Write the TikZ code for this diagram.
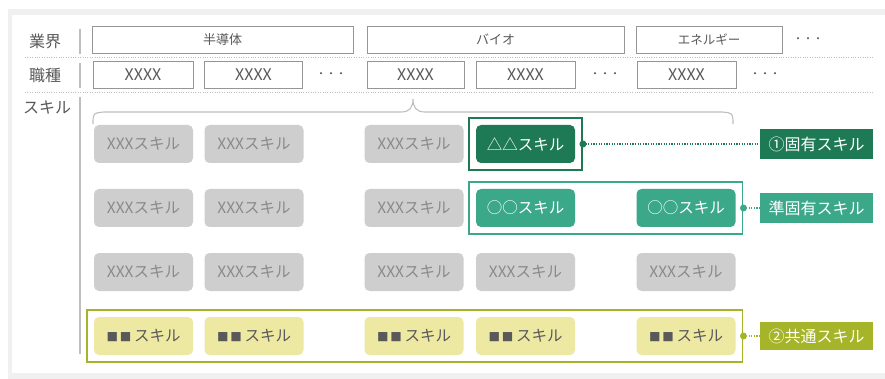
\documentclass[tikz,border=0pt]{standalone}
\usepackage{fontspec}
\setmainfont{Noto Sans CJK JP}
\usetikzlibrary{fit}

\definecolor{ctext}{RGB}{89,89,89}
\definecolor{cellline}{RGB}{150,150,150}
\definecolor{sepline}{RGB}{190,190,190}
\definecolor{graybox}{RGB}{206,206,206}
\definecolor{graytext}{RGB}{138,138,138}
\definecolor{darkgrn}{RGB}{30,122,84}
\definecolor{tealgrn}{RGB}{60,168,138}
\definecolor{olivegrn}{RGB}{165,180,40}
\definecolor{paleyel}{RGB}{237,233,162}
\definecolor{framegray}{RGB}{240,240,240}

\tikzset{
  rowlabel/.style={font=\fontsize{16}{16}\selectfont, text=ctext},
  cell/.style={draw=cellline, line width=0.9pt, inner sep=0pt, minimum height=27pt, text=ctext},
  skillbox/.style={rounded corners=5pt, minimum width=99pt, minimum height=38pt, inner sep=0pt, font=\fontsize{15.5}{15.5}\selectfont},
  plainskill/.style={skillbox, fill=graybox, text=graytext},
  commonskill/.style={skillbox, fill=paleyel, text=ctext},
  tag/.style={minimum width=113pt, minimum height=30pt, inner sep=0pt, text=white, font=\fontsize{16}{16}\selectfont},
  link/.style={#1, line width=1.4pt, dash pattern=on 1.2pt off 1.4pt},
  dots/.style={text=ctext, font=\fontsize{10}{10}\selectfont}
}

\begin{document}
\begin{tikzpicture}[x=1pt, y=-1pt]
  \useasboundingbox (0,0) rectangle (885,379);

  % Draw the panel
  \fill[framegray] (8,9) rectangle (885,379);
  \fill[white] (12,15) rectangle (885,373);

  % Row labels and separators
  \node[rowlabel] (rind) at (45,41) {業界};
  \node[rowlabel] (rjob) at (45,75) {職種};
  \node[rowlabel] (rskl) at (47,108) {スキル};
  \draw[sepline, line width=1.2pt] (80,29) -- (80,54);
  \draw[sepline, line width=1.2pt] (80,63) -- (80,88);
  \draw[sepline, line width=1.2pt] (80,97) -- (80,354);
  \draw[sepline, dotted] (25,57) -- (873,57);
  \draw[sepline, dotted] (25,92) -- (873,92);

  % Industries
  \node[cell, minimum width=261pt, font=\fontsize{13}{13}\selectfont] (i1) at (222.5,39.5) {半導体};
  \node[cell, minimum width=257pt, font=\fontsize{13}{13}\selectfont] (i2) at (495.5,39.5) {バイオ};
  \node[cell, minimum width=146pt, font=\fontsize{12.5}{12.5}\selectfont] (i3) at (709,39.5) {エネルギー};
  \node[dots] (d0) at (808,40) {・・・};

  % Jobs
  \node[cell, minimum width=100pt, font=\fontsize{16}{16}\selectfont] (j1) at (143,74.5) {XXXX};
  \node[cell, minimum width=98pt, font=\fontsize{16}{16}\selectfont] (j2) at (253.5,74.5) {XXXX};
  \node[dots] (d1) at (331,75) {・・・};
  \node[cell, minimum width=97pt, font=\fontsize{16}{16}\selectfont] (j3) at (415.5,74.5) {XXXX};
  \node[cell, minimum width=99pt, font=\fontsize{16}{16}\selectfont] (j4) at (525.5,74.5) {XXXX};
  \node[dots] (d2) at (605,75) {・・・};
  \node[cell, minimum width=99pt, font=\fontsize{16}{16}\selectfont] (j5) at (686.5,74.5) {XXXX};
  \node[dots] (d3) at (765,75) {・・・};

  % Brace over the skills
  \draw[sepline, line width=1.1pt] (93,124) .. controls (93,113) .. (104,112) -- (401,112)
    .. controls (410,112) and (413,107) .. (413,99)
    .. controls (413,107) and (416,112) .. (425,112) -- (722,112)
    .. controls (733,113) .. (733,124);

  % Skills
  \foreach \r/\y in {1/144,2/208,3/272}
    \foreach \c/\x in {1/143.5,2/254,3/414}
      \node[plainskill] (s\r\c) at (\x,\y) {XXXスキル};
  \node[plainskill] (s34) at (525.5,272) {XXXスキル};
  \node[plainskill] (s35) at (686,272) {XXXスキル};
  \node[skillbox, fill=darkgrn, text=white] (s14) at (525.5,144) {△△スキル};
  \node[skillbox, fill=tealgrn, text=white] (s24) at (525.5,208) {○○スキル};
  \node[skillbox, fill=tealgrn, text=white] (s25) at (686,208) {○○スキル};
  \foreach \c/\x in {1/143.5,2/254,3/414,4/525.5,5/686}
    \node[commonskill] (s4\c) at (\x,336) {{\fontsize{11.5}{11.5}\selectfont■\,■}\,スキル};

  % Group frames
  \node[draw=darkgrn, line width=1.5pt, inner sep=7pt, fit=(s14)] (f1) {};
  \node[draw=tealgrn, line width=1.5pt, inner sep=7pt, fit=(s24)(s25)] (f2) {};
  \node[draw=olivegrn, line width=1.5pt, inner sep=7pt, fit=(s41)(s45)] (f3) {};

  % Tags
  \node[tag, fill=darkgrn] (l1) at (816.5,144) {①固有スキル};
  \node[tag, fill=tealgrn] (l2) at (816.5,208) {準固有スキル};
  \node[tag, fill=olivegrn, minimum height=28pt] (l3) at (816.5,336) {②共通スキル};

  % Connectors
  \draw[link=darkgrn] (f1.east) -- (l1.west);
  \draw[link=tealgrn] (f2.east) -- (l2.west);
  \draw[link=olivegrn] (f3.east) -- (l3.west);
  \fill[darkgrn] (f1.east) circle (3.5pt);
  \fill[tealgrn] (f2.east) circle (3.5pt);
  \fill[olivegrn] (f3.east) circle (3.5pt);
\end{tikzpicture}
\end{document}
